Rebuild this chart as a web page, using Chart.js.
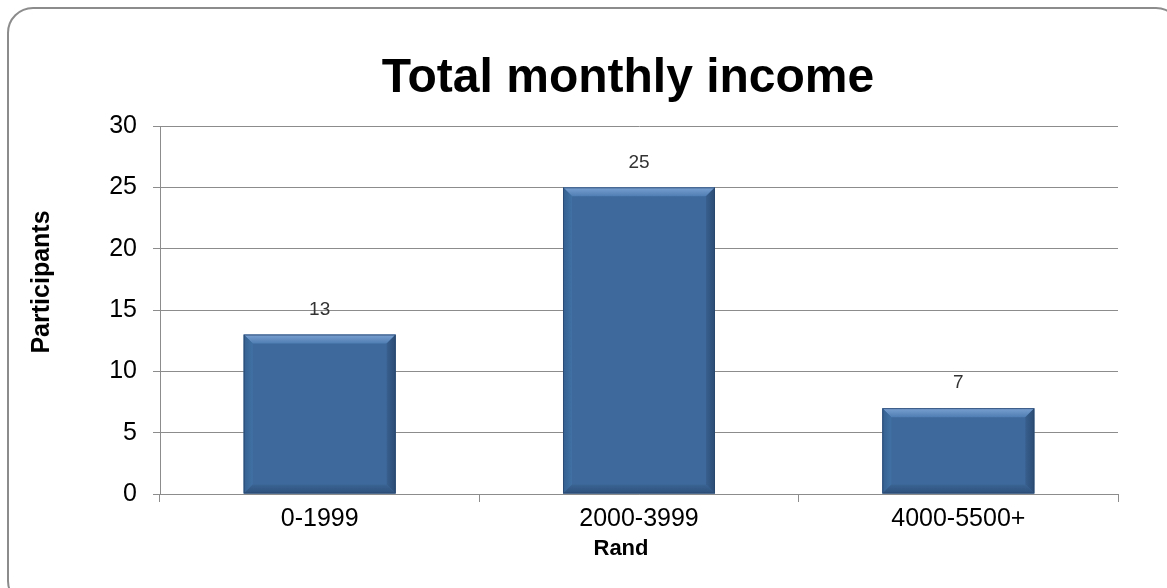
<!DOCTYPE html>
<html>
<head>
<meta charset="utf-8">
<script src="https://cdn.jsdelivr.net/npm/chart.js@4.4.1/dist/chart.umd.min.js"></script>
<style>
    html, body { margin: 0; padding: 0; background: #fff; overflow: hidden; }
    #frame {
        position: absolute; left: 7px; top: 7px; width: 1175px; height: 600px;
        border: 2px solid #8c8c8c; border-radius: 26px; box-sizing: border-box;
    }
    #wrap { position: absolute; left: 0; top: 0; width: 1167px; height: 588px; }
</style>
</head>
<body>
<div id="frame"></div>
<div id="wrap"><canvas id="income-chart"></canvas></div>
<script>
// chart data
const categories = ['0-1999', '2000-3999', '4000-5500+'];
const participants = [13, 25, 7];
const yTicks = [0, 5, 10, 15, 20, 25, 30];
const chartTitle = 'Total monthly income';
const xTitle = 'Rand';
const yTitle = 'Participants';

const FONT = '"Liberation Sans", Arial, sans-serif';
const BAR_COLOR = '#3d699c';

// bevelled look of the Excel bars, value labels and titles
const decorPlugin = {
    id: 'decor',
    afterDatasetsDraw: function(chart) {
        const ctx = chart.ctx;
        const meta = chart.getDatasetMeta(0);
        meta.data.forEach(function(bar) {
            const left = bar.x - bar.width / 2;
            const right = bar.x + bar.width / 2;
            const top = bar.y;
            const bottom = bar.base;
            const b = 9;
            ctx.save();
            // top edge
            let g = ctx.createLinearGradient(0, top, 0, top + b);
            g.addColorStop(0, '#7ba2d2');
            g.addColorStop(1, '#4f7db3');
            ctx.fillStyle = g;
            ctx.beginPath();
            ctx.moveTo(left, top); ctx.lineTo(right, top);
            ctx.lineTo(right - b, top + b); ctx.lineTo(left + b, top + b);
            ctx.closePath(); ctx.fill();
            // left edge
            g = ctx.createLinearGradient(left, 0, left + b, 0);
            g.addColorStop(0, '#34608f');
            g.addColorStop(1, '#4171a5');
            ctx.fillStyle = g;
            ctx.beginPath();
            ctx.moveTo(left, top); ctx.lineTo(left + b, top + b);
            ctx.lineTo(left + b, bottom - b); ctx.lineTo(left, bottom);
            ctx.closePath(); ctx.fill();
            // right edge
            g = ctx.createLinearGradient(right - b, 0, right, 0);
            g.addColorStop(0, '#385f8e');
            g.addColorStop(1, '#2b4c74');
            ctx.fillStyle = g;
            ctx.beginPath();
            ctx.moveTo(right, top); ctx.lineTo(right - b, top + b);
            ctx.lineTo(right - b, bottom - b); ctx.lineTo(right, bottom);
            ctx.closePath(); ctx.fill();
            // bottom edge
            g = ctx.createLinearGradient(0, bottom - b, 0, bottom);
            g.addColorStop(0, '#3a6494');
            g.addColorStop(1, '#2d507a');
            ctx.fillStyle = g;
            ctx.beginPath();
            ctx.moveTo(left, bottom); ctx.lineTo(right, bottom);
            ctx.lineTo(right - b, bottom - b); ctx.lineTo(left + b, bottom - b);
            ctx.closePath(); ctx.fill();
            ctx.strokeStyle = 'rgba(40, 70, 110, 0.8)';
            ctx.lineWidth = 1;
            ctx.strokeRect(left + 0.5, top + 0.5, bar.width - 1, bottom - top - 1);
            ctx.restore();
        });
    },
    afterDraw: function(chart) {
        const ctx = chart.ctx;
        const area = chart.chartArea;
        const meta = chart.getDatasetMeta(0);
        ctx.save();
        // value labels above the bars
        ctx.font = '19px ' + FONT;
        ctx.fillStyle = '#333';
        ctx.textAlign = 'center';
        ctx.textBaseline = 'middle';
        meta.data.forEach(function(bar, i) {
            ctx.fillText(String(participants[i]), bar.x, bar.y - 25);
        });
        // main title
        ctx.fillStyle = '#000';
        ctx.font = 'bold 48px ' + FONT;
        ctx.textBaseline = 'alphabetic';
        ctx.fillText(chartTitle, 628, 92);
        // x axis title
        ctx.font = 'bold 22px ' + FONT;
        ctx.textBaseline = 'middle';
        ctx.fillText(xTitle, area.left + 461, 549);
        // y axis title
        ctx.translate(42, area.top + 156);
        ctx.rotate(-Math.PI / 2);
        ctx.font = 'bold 25px ' + FONT;
        ctx.fillText(yTitle, 0, 0);
        ctx.restore();
    }
};

new Chart(document.getElementById('income-chart'), {
    type: 'bar',
    data: {
        labels: categories,
        datasets: [{
            data: participants,
            backgroundColor: BAR_COLOR,
            borderWidth: 0,
            categoryPercentage: 1,
            barPercentage: 0.476
        }]
    },
    options: {
        responsive: true,
        maintainAspectRatio: false,
        animation: false,
        layout: { padding: { left: 0, right: 49, top: 126, bottom: 0 } },
        plugins: {
            legend: { display: false },
            tooltip: { enabled: false },
            title: { display: false }
        },
        scales: {
            x: {
                afterFit: function(scale) { scale.height = 94; },
                grid: {
                    offset: true,
                    drawOnChartArea: false,
                    drawTicks: true,
                    tickLength: 8,
                    color: '#8c8c8c'
                },
                border: { color: '#8c8c8c', width: 1 },
                ticks: {
                    color: '#000',
                    padding: 2,
                    font: { family: FONT, size: 25 }
                }
            },
            y: {
                min: 0,
                max: 30,
                afterFit: function(scale) { scale.width = 160; },
                afterBuildTicks: function(scale) {
                    scale.ticks = yTicks.map(function(v) { return { value: v }; });
                },
                grid: {
                    color: '#8c8c8c',
                    drawTicks: true,
                    tickLength: 7
                },
                border: { color: '#8c8c8c', width: 1 },
                ticks: {
                    color: '#000',
                    padding: 16,
                    font: { family: FONT, size: 25 }
                }
            }
        }
    },
    plugins: [decorPlugin]
});
</script>
</body>
</html>
